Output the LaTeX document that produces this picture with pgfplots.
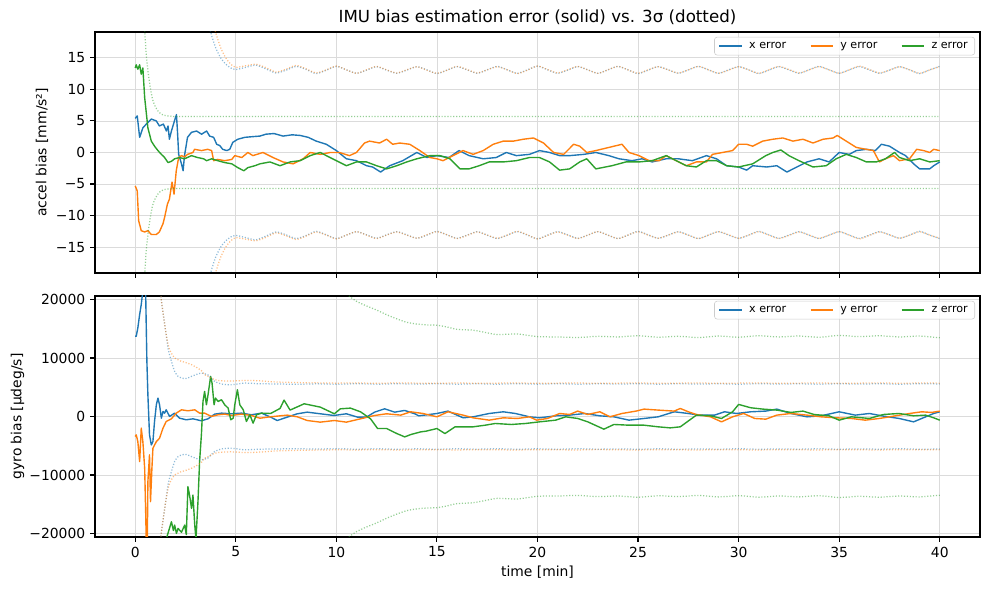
\documentclass[border=0pt]{standalone}
\usepackage{fontspec}
\setmainfont{DejaVu Sans}
\usepackage{pgfplots}
\usepackage{pgfplotstable}
\pgfplotsset{compat=1.18}

\definecolor{tabblue}{HTML}{1F77B4}
\definecolor{taborange}{HTML}{FF7F0E}
\definecolor{tabgreen}{HTML}{2CA02C}

% 3-sigma envelopes (positive side; the negative side is the mirror image)
\pgfplotstableread{
t sx sy
3.0 40 44
3.5 23 26
3.75 19.1 22
4.0 16.6 19.0
4.25 15.0 16.6
4.5 14.0 15.0
4.75 13.4 14.0
5.0 13.15 13.5
5.5 13.5 13.75
6.0 13.85 14.0
6.5 13.25 13.45
7.0 12.6 12.75
7.5 13.05 13.2
8.0 13.65 13.8
8.5 13.15 13.25
9.0 12.5 12.6
9.5 13.05 13.1
10.0 13.65 13.7
10.5 13.1 13.1
11.0 12.55 12.55
11.5 13.05 13.1
12.0 13.6 13.65
12.5 13.05 13.1
13.0 12.55 12.6
13.5 13.05 13.1
14.0 13.6 13.6
14.5 13.1 13.05
15.0 12.5 12.55
15.5 13.05 13.05
16.0 13.6 13.65
16.5 13.1 13.15
17.0 12.55 12.6
17.5 13.1 13.1
18.0 13.65 13.6
18.5 13.1 13.1
19.0 12.55 12.5
19.5 13.1 13.05
20.0 13.7 13.7
20.5 13.1 13.15
21.0 12.55 12.6
21.5 13.05 13.1
22.0 13.6 13.65
22.5 13.1 13.1
23.0 12.55 12.55
23.5 13.1 13.1
24.0 13.65 13.65
24.5 13.1 13.1
25.0 12.5 12.55
25.5 13.05 13.1
26.0 13.6 13.6
26.5 13.1 13.1
27.0 12.55 12.6
27.5 13.1 13.1
28.0 13.65 13.65
28.5 13.1 13.1
29.0 12.55 12.55
29.5 13.1 13.05
30.0 13.6 13.6
30.5 13.1 13.1
31.0 12.5 12.55
31.5 13.05 13.1
32.0 13.6 13.65
32.5 13.1 13.15
33.0 12.55 12.6
33.5 13.1 13.1
34.0 13.65 13.6
34.5 13.1 13.1
35.0 12.55 12.55
35.5 13.1 13.1
36.0 13.6 13.7
36.5 13.1 13.15
37.0 12.55 12.6
37.5 13.05 13.05
38.0 13.6 13.6
38.5 13.1 13.1
39.0 12.5 12.55
39.5 13.1 13.1
40.0 13.65 13.6
}\accxy

\pgfplotstableread{
t sz
0 60
0.3 30
0.45 20.5
0.55 15.5
0.65 12.5
0.75 10.3
0.85 8.6
0.95 7.6
1.1 6.7
1.28 6.1
1.5 5.85
1.8 5.75
2.5 5.7
10 5.7
20 5.7
30 5.7
40 5.7
}\accz

\pgfplotstableread{
t sx sy
1.1 30000 30000
1.25 21500 21500
1.38 17800 17800
1.54 14000 14000
1.63 11700 12400
1.71 10500 11430
1.8 9430 10800
1.96 7700 10000
2.13 6860 9700
2.29 6600 9430
2.45 6460 9300
2.6 6550 9100
2.8 6860 8860
3.1 7250 8290
3.3 7430 7800
3.45 7300 7140
3.6 7140 6900
3.95 6000 6290
4.3 5540 6100
4.8 5430 6050
5.45 5710 6170
6.1 5600 6110
7 5560 5900
8 5500 5800
9 5580 5750
10 5500 5700
11 5600 5720
12 5520 5680
13 5600 5720
14 5530 5700
15 5600 5680
16 5520 5720
17 5590 5680
18 5520 5700
19 5600 5720
20 5530 5680
21 5600 5700
22 5520 5720
23 5590 5660
24 5540 5700
25 5600 5720
26 5520 5680
27 5600 5700
28 5540 5720
29 5590 5680
30 5520 5700
31 5600 5720
32 5540 5680
33 5590 5700
34 5520 5720
35 5600 5680
36 5540 5700
37 5590 5720
38 5520 5690
39 5600 5710
40 5560 5700
}\gyroxy

\pgfplotstableread{
t sz
9.0 30000
10.0 23500
10.5 21000
11.0 19700
11.5 18900
12.0 18200
12.5 17400
13.0 16700
13.5 16100
14.0 15800
14.5 15650
15.0 15600
15.5 15300
16.0 14900
16.8 14750
17.5 14300
18.0 14000
19.0 14100
20.0 13650
21 13600
22 13500
23 13700
24 13600
25 13800
26 13550
27 13700
28 13500
29 13750
30 13550
31 13800
32 13600
33 13750
34 13550
35 13850
36 13650
37 13800
38 13600
39 13750
40 13450
}\gyroz

\pgfplotsset{
  imu/.style={
    width=637.2pt, height=173.5pt, scale only axis,
    xmin=-2, xmax=42,
    xtick={0,5,10,15,20,25,30,35,40},
    scaled y ticks=false, scaled x ticks=false,
    axis line style={line width=0.8pt},
    tick align=outside, tick pos=left, major tick length=3.5pt,
    tick style={black, line width=0.8pt},
    grid=major, major grid style={black!14, line width=0.6pt},
    tick label style={font=\fontsize{10}{12}\selectfont},
    label style={font=\fontsize{10}{12}\selectfont},
    legend columns=3,
    legend cell align=left,
    legend style={at={(axis description cs:0.9944,0.98)}, anchor=north east,
      font=\fontsize{8}{10}\selectfont, draw=black!20, rounded corners=2pt,
      fill=white, fill opacity=0.8, text opacity=1, draw opacity=1,
      inner xsep=3pt, inner ysep=1.5pt,
      /tikz/every odd column/.append style={column sep=3pt},
      /tikz/every even column/.append style={column sep=15pt}},
    legend image code/.code={\draw[##1] (0pt,0pt) -- (16pt,0pt);},
  },
  err/.style={line width=1pt, line join=round},
  bnd/.style={line width=0.9pt, dash pattern=on 0.8pt off 1.3pt, opacity=0.5, smooth, tension=0.4, forget plot},
}

\begin{document}
\begin{tikzpicture}
\useasboundingbox (-68.4pt,23.04pt) rectangle (643.7pt,-401.76pt);

% ---------------- accelerometer bias ----------------
\begin{axis}[imu,
  at={(0pt,0pt)}, anchor=north west,
  ymin=-19.1, ymax=19.1,
  ytick={-15,-10,-5,0,5,10,15},
  yticklabels={−15,−10,−5,0,5,10,15},
  xticklabels={},
  ylabel={accel bias [mm/s²]},
  every axis y label/.style={at={(axis description cs:-0.0599,0.5)}, rotate=90, anchor=center},
  title={IMU bias estimation error (solid) vs. 3σ (dotted)},
  every axis title/.style={at={(axis description cs:0.5,1)}, anchor=base, yshift=6.8pt, font=\fontsize{12}{14}\selectfont},
]
\addplot[err, tabblue] table {
t v
0 5.4
0.1 5.8
0.22 2.4
0.38 3.9
0.55 4.5
0.8 5.3
1.05 5.0
1.2 4.2
1.4 4.5
1.55 3.4
1.63 4.2
1.7 2.1
1.8 3.4
1.95 5.0
2.05 6.0
2.1 3.4
2.16 -0.3
2.3 -1.8
2.38 -2.9
2.45 -0.5
2.6 2.4
2.8 3.2
3.05 3.4
3.3 2.9
3.55 3.4
3.7 2.6
3.9 2.4
4.05 1.3
4.2 1.1
4.35 0.5
4.55 0.3
4.7 0.5
4.85 1.6
5.1 2.1
5.45 2.4
5.8 2.5
6.2 2.6
6.5 2.9
6.9 3.0
7.35 2.6
7.8 2.8
8.2 2.7
8.6 2.4
9.0 1.8
9.5 1.3
10.0 0.3
10.5 -1.0
11.0 -1.3
11.5 -2.1
11.8 -2.3
12.2 -3.1
12.65 -2.1
13.3 -1.3
14.0 0.0
14.5 -0.8
15.0 -0.5
15.6 -0.8
16.1 0.3
16.6 -0.5
17.3 -1.0
17.95 -0.8
18.45 0.0
18.95 -0.5
19.6 -0.3
20.1 0.3
20.6 0.0
21.1 -0.5
21.6 -0.5
22.3 -0.3
22.9 0.0
23.55 -0.5
24.05 -1.0
24.7 -1.3
25.2 -1.0
25.7 -1.5
26.4 -1.0
27.0 -1.0
27.7 -1.3
28.4 -0.5
28.9 -1.0
29.4 -2.1
30.0 -2.3
30.4 -2.8
30.7 -2.1
31.4 -2.3
31.9 -2.1
32.4 -3.1
32.9 -2.3
33.4 -1.5
34.0 -1.0
34.5 -1.5
35.0 0.0
35.5 -0.3
35.85 0.3
36.35 0.5
36.8 0.3
37.1 1.3
37.5 1.0
38.0 0.0
38.3 -0.5
38.7 -1.8
39.0 -2.6
39.5 -2.6
39.7 -2.1
40.0 -1.5
};
\addlegendentry{x error}
\addplot[err, taborange] table {
t v
0 -5.3
0.1 -6.1
0.17 -10.8
0.3 -12.4
0.47 -12.6
0.63 -12.4
0.8 -13.0
1.05 -13.0
1.2 -12.6
1.38 -11.3
1.46 -10.3
1.6 -8.2
1.7 -7.4
1.83 -4.7
1.93 -6.6
2.04 -2.9
2.16 -0.8
2.3 -0.5
2.45 -0.7
2.6 -0.3
2.87 0.0
2.95 0.5
3.3 0.3
3.6 0.5
3.8 0.3
3.9 -1.3
4.1 -1.1
4.45 -1.3
4.8 -1.1
4.95 -0.5
5.3 -0.8
5.6 0.0
5.85 -0.5
6.35 0.0
6.85 -0.8
7.35 -1.5
7.85 -1.8
8.35 -1.0
8.7 0.0
9.2 -0.3
9.7 0.0
10.15 0.0
10.65 -0.5
11.0 0.0
11.4 1.5
11.65 1.8
12.15 1.5
12.5 2.1
12.8 1.3
13.15 1.5
13.65 1.3
14.15 0.3
14.65 -0.8
15.0 -1.0
15.3 -1.3
15.8 -0.5
16.3 0.3
16.8 -0.3
17.3 0.3
17.8 1.3
18.3 1.8
18.8 1.8
19.3 2.1
19.8 2.3
20.3 1.5
20.8 0.0
21.3 -0.3
21.8 1.3
22.1 1.0
22.45 0.0
22.9 0.3
23.55 0.8
24.2 1.3
24.55 0.0
25.05 -0.5
25.55 -1.3
26.05 -1.3
26.4 -0.5
26.9 -1.3
27.4 -2.1
27.9 -1.5
28.4 -1.5
28.7 -0.3
29.2 0.0
29.7 0.3
30.0 1.3
30.4 1.3
30.7 1.0
31.2 1.8
31.7 2.1
32.2 2.3
32.7 1.8
33.2 2.1
33.7 1.5
34.2 2.1
34.7 2.3
34.9 2.7
35.35 1.8
35.85 0.8
36.35 0.5
36.7 0.3
37.0 -1.5
37.3 -1.0
37.7 -0.5
38.0 -1.3
38.5 -1.0
38.85 0.5
39.2 0.3
39.5 0.0
39.7 0.5
40.0 0.3
};
\addlegendentry{y error}
\addplot[err, tabgreen] table {
t v
0 13.4
0.05 13.9
0.13 13.2
0.22 13.9
0.3 12.4
0.38 13.4
0.47 8.7
0.55 6.3
0.63 3.9
0.8 1.8
0.96 1.0
1.13 0.3
1.3 -0.3
1.46 -0.8
1.63 -1.6
1.8 -1.4
1.96 -1.0
2.2 -0.8
2.45 -1.0
2.8 -0.5
3.1 -0.8
3.4 -1.0
3.55 -1.3
3.8 -1.0
4.1 -1.3
4.45 -1.6
4.8 -1.8
5.1 -2.4
5.4 -2.9
5.6 -2.4
5.95 -2.1
6.2 -1.8
6.7 -1.5
7.2 -2.1
7.7 -1.5
8.2 -1.3
8.7 -0.5
9.2 0.0
9.5 -0.5
10.0 -1.3
10.5 -2.1
11.0 -1.5
11.5 -1.5
12.0 -2.1
12.5 -2.6
13.0 -2.1
13.5 -1.5
14.0 -1.0
14.65 -0.5
15.15 -0.5
15.65 -1.0
16.15 -2.6
16.6 -2.6
17.1 -2.1
17.6 -1.5
18.3 -1.5
18.95 -1.3
19.6 -0.8
20.1 -0.8
20.6 -1.5
21.1 -2.8
21.6 -2.6
22.1 -1.5
22.45 -1.0
22.9 -2.6
23.7 -2.1
24.4 -1.5
25.05 -1.5
25.7 -1.3
26.4 -0.5
26.9 -1.3
27.4 -2.1
27.9 -2.3
28.4 -1.3
28.9 -1.3
29.4 -2.1
30.0 -2.3
30.7 -1.8
31.35 -0.5
31.7 0.0
32.1 0.4
32.5 -0.5
33.0 -1.3
33.7 -2.3
34.35 -2.1
34.85 -1.0
35.35 -0.3
35.85 -0.8
36.35 -1.5
36.85 -1.5
37.3 -1.0
37.75 0.0
38.0 -0.8
38.5 -1.3
39.0 -1.0
39.5 -1.5
40.0 -1.3
};
\addlegendentry{z error}
% 3-sigma envelopes
\addplot[bnd, tabblue] table[x=t, y=sx] {\accxy};
\addplot[bnd, tabblue] table[x=t, y expr=-\thisrow{sx}] {\accxy};
\addplot[bnd, taborange] table[x=t, y=sy] {\accxy};
\addplot[bnd, taborange] table[x=t, y expr=-\thisrow{sy}] {\accxy};
\addplot[bnd, tabgreen] table[x=t, y=sz] {\accz};
\addplot[bnd, tabgreen] table[x=t, y expr=-\thisrow{sz}] {\accz};
\end{axis}

% ---------------- gyroscope bias ----------------
\begin{axis}[imu,
  at={(0pt,-190.08pt)}, anchor=north west,
  ymin=-20600, ymax=20600,
  ytick={-20000,-10000,0,10000,20000},
  yticklabels={−20000,−10000,0,10000,20000},
  xticklabels={0,5,10,15,20,25,30,35,40},
  ylabel={gyro bias [µdeg/s]},
  every axis y label/.style={at={(axis description cs:-0.0876,0.5)}, rotate=90, anchor=center},
  xlabel={time [min]},
  every axis x label/.style={at={(axis description cs:0.5,0)}, anchor=base, yshift=-28.8pt},
]
\addplot[err, tabblue] table {
t v
0 13710
0.05 13710
0.13 15140
0.22 17430
0.3 19140
0.38 21500
0.45 22000
0.52 21000
0.55 15140
0.58 9430
0.63 3710
0.71 -3140
0.8 -4860
0.88 -4290
0.96 -860
1.05 2000
1.13 3140
1.21 2000
1.3 -290
1.38 860
1.46 570
1.54 1140
1.71 0
1.96 570
2.2 -290
2.54 -570
2.87 -400
3.29 -740
3.62 -400
3.95 400
4.29 570
4.78 460
5.28 570
5.78 290
6.28 570
6.73 -110
7.06 -690
7.56 -110
8.06 460
8.55 740
9.2 460
9.88 170
10.5 460
11.05 -110
11.5 -110
11.9 740
12.4 1310
12.9 740
13.4 1030
13.9 460
14.1 110
15.0 510
15.55 920
16.3 -230
16.8 -60
17.6 510
18.3 800
18.9 510
19.6 -60
20.1 -230
20.9 110
21.6 230
22.35 510
23.1 110
23.8 -60
24.55 -630
25.3 -340
26.0 -60
26.8 800
27.5 510
28.05 230
28.8 230
29.3 800
29.9 510
30.6 800
31.35 920
31.9 1260
32.6 510
33.4 -60
34.1 110
35.0 800
35.8 230
36.5 510
37.2 60
37.98 -340
38.7 -920
39.3 -60
39.7 510
40.0 800
};
\addlegendentry{x error}
\addplot[err, taborange] table {
t v
0 -3430
0.05 -3140
0.13 -4290
0.22 -7710
0.3 -2000
0.38 -4290
0.47 -8860
0.52 -16400
0.55 -21500
0.6 -22000
0.63 -11140
0.71 -6570
0.76 -14570
0.83 -8860
0.88 -5430
1.05 -4290
1.21 -3710
1.38 -2000
1.54 -860
1.8 -400
2.04 570
2.3 1140
2.62 970
2.96 1140
3.2 570
3.45 570
3.79 0
4.12 290
4.45 400
4.78 170
5.28 400
5.78 170
6.2 -300
6.7 -60
7.56 230
8.06 -60
8.55 -690
9.2 -970
9.9 -690
10.5 -970
11.2 -400
11.9 170
12.5 460
13.2 230
13.7 800
14.3 510
15.0 -60
15.55 800
16.3 230
16.8 -230
17.6 -630
18.3 -230
19.0 -340
19.6 -60
19.96 -630
20.5 -340
21.1 510
21.6 340
22.0 920
22.5 340
23.1 800
23.6 -60
24.2 510
24.9 920
25.3 1260
26.0 1090
26.8 920
27.1 1370
27.5 800
27.9 340
28.6 -60
29.15 -920
29.7 -60
30.25 510
30.8 -340
31.35 -460
31.9 230
32.6 510
33.4 230
34.1 -60
34.85 -230
35.6 -340
36.3 -630
37.0 -340
37.8 110
38.5 510
39.1 800
39.6 690
40.0 920
};
\addlegendentry{y error}
\addplot[err, tabgreen] table {
t v
1.3 -24000
1.6 -20300
1.8 -18000
1.9 -19500
1.96 -18570
2.05 -20000
2.13 -19140
2.3 -19800
2.46 -18570
2.54 -20200
2.62 -12000
2.7 -13430
2.8 -15710
2.87 -13430
2.96 -18570
3.02 -21000
3.12 -14570
3.2 -7710
3.29 -3140
3.37 2570
3.45 4290
3.54 2000
3.62 3710
3.75 6860
3.82 5710
3.92 2000
3.99 3140
4.12 2570
4.29 2860
4.45 2000
4.62 1430
4.75 -570
4.87 -290
4.95 2000
5.08 4570
5.2 2000
5.37 1140
5.53 -860
5.7 290
5.86 -1140
6.03 290
6.28 570
6.73 510
7.2 1370
7.4 2800
7.7 1090
8.4 2170
9.2 1600
9.9 460
10.2 1310
10.7 1430
11.2 800
11.7 -400
12.05 -2060
12.5 -2060
13.0 -2910
13.4 -3490
13.7 -3090
14.2 -2630
14.45 -2520
15.0 -2060
15.4 -2920
15.9 -1770
16.8 -1770
17.4 -1490
17.9 -1200
18.7 -1370
19.4 -1200
20.1 -920
20.9 -630
21.4 -60
22.0 -340
22.5 -920
23.3 -2170
23.8 -1370
24.55 -1490
25.3 -1490
26.0 -1770
26.6 -1950
27.1 -1770
27.9 230
28.6 110
29.15 -340
29.7 800
30.0 2060
30.6 1490
31.2 1260
31.9 1090
32.6 690
33.2 920
33.75 340
34.5 110
35.0 -630
35.6 -60
36.5 -340
37.2 340
37.98 510
38.7 110
39.3 230
39.7 -230
40.0 -630
};
\addlegendentry{z error}
% 3-sigma envelopes
\addplot[bnd, tabblue] table[x=t, y=sx] {\gyroxy};
\addplot[bnd, tabblue] table[x=t, y expr=-\thisrow{sx}] {\gyroxy};
\addplot[bnd, taborange] table[x=t, y=sy] {\gyroxy};
\addplot[bnd, taborange] table[x=t, y expr=-\thisrow{sy}] {\gyroxy};
\addplot[bnd, tabgreen] table[x=t, y=sz] {\gyroz};
\addplot[bnd, tabgreen] table[x=t, y expr=-\thisrow{sz}] {\gyroz};
\end{axis}
\end{tikzpicture}
\end{document}
